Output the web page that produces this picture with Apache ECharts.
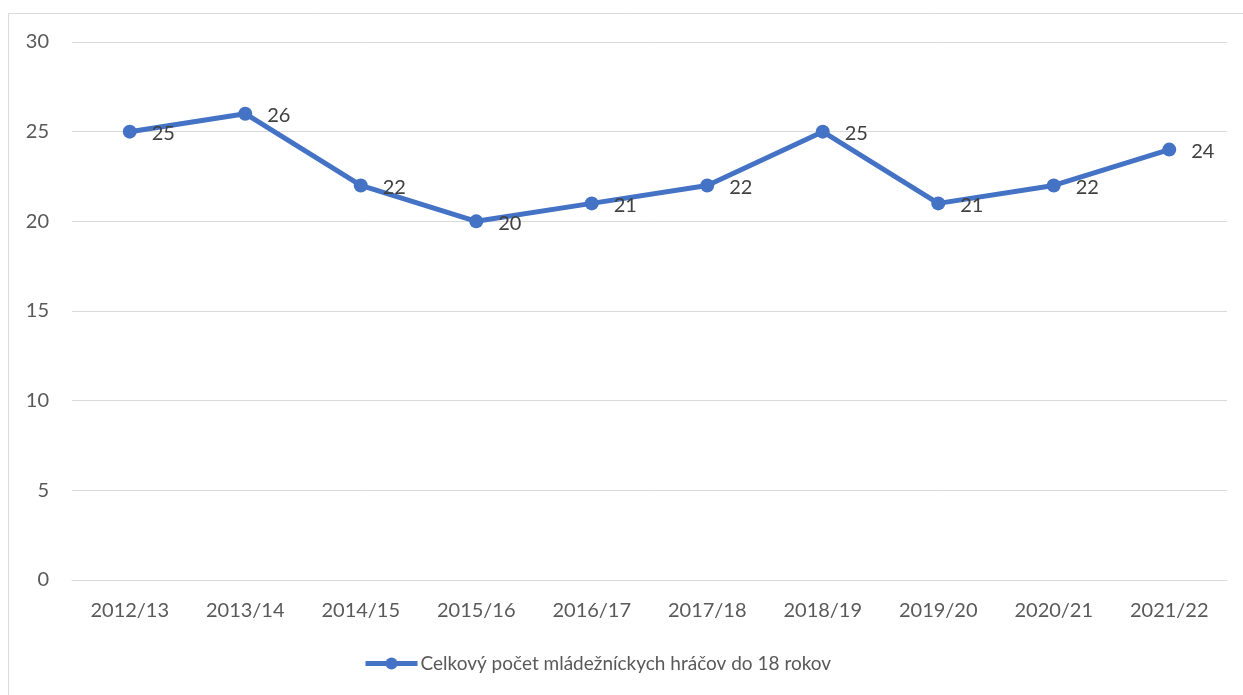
<!DOCTYPE html>
<html>
<head>
<meta charset="utf-8">
<script src="https://cdn.jsdelivr.net/npm/echarts@6/dist/echarts.min.js"></script>
<style>
  html, body { margin: 0; padding: 0; background: #fff; }
  #chart { width: 1243px; height: 695px; }
</style>
</head>
<body>
<div id="chart"></div>
<script>
const seasons = ['2012/13', '2013/14', '2014/15', '2015/16', '2016/17', '2017/18', '2018/19', '2019/20', '2020/21', '2021/22'];
const youthPlayers = [25, 26, 22, 20, 21, 22, 25, 21, 22, 24];
const seriesName = 'Celkový počet mládežníckych hráčov do 18 rokov';
const yTicks = { min: 0, max: 30, interval: 5 };

const FONT = 'Lato, "Open Sans", sans-serif';
const BLUE = '#4472C4';

const chart = echarts.init(document.getElementById('chart'), null, { renderer: 'canvas' });
chart.setOption({
  backgroundColor: '#ffffff',
  animation: false,
  graphic: [{
    type: 'rect',
    shape: { x: 8.5, y: 13.5, width: 1250, height: 700 },
    style: { fill: 'none', stroke: '#d9d9d9', lineWidth: 1 },
    silent: true
  }],
  grid: { left: 72, right: 16, top: 42, bottom: 115, containLabel: false },
  legend: {
    bottom: 17,
    left: 358,
    itemWidth: 52,
    itemHeight: 15,
    itemGap: 0,
    lineStyle: { width: 5 },
    textStyle: { fontFamily: FONT, fontSize: 19, color: '#595959', padding: [0, 0, 0, -2] },
    data: [seriesName]
  },
  xAxis: {
    type: 'category',
    data: seasons,
    boundaryGap: true,
    axisLine: { show: true, lineStyle: { color: '#d9d9d9', width: 1 } },
    axisTick: { show: false },
    axisLabel: { fontFamily: FONT, fontSize: 20, color: '#595959', margin: 21 }
  },
  yAxis: {
    type: 'value',
    min: yTicks.min,
    max: yTicks.max,
    interval: yTicks.interval,
    axisLine: { show: false },
    axisTick: { show: false },
    splitLine: { lineStyle: { color: '#d9d9d9', width: 1 } },
    axisLabel: { fontFamily: FONT, fontSize: 20, color: '#595959', margin: 23 }
  },
  series: [{
    name: seriesName,
    type: 'line',
    data: youthPlayers,
    symbol: 'circle',
    symbolSize: 14,
    itemStyle: { color: BLUE },
    lineStyle: { color: BLUE, width: 5 },
    label: {
      show: true,
      position: 'right',
      distance: 15,
      fontFamily: FONT,
      fontSize: 20,
      color: '#404040',
      offset: [0, 2]
    }
  }]
});
</script>
</body>
</html>
